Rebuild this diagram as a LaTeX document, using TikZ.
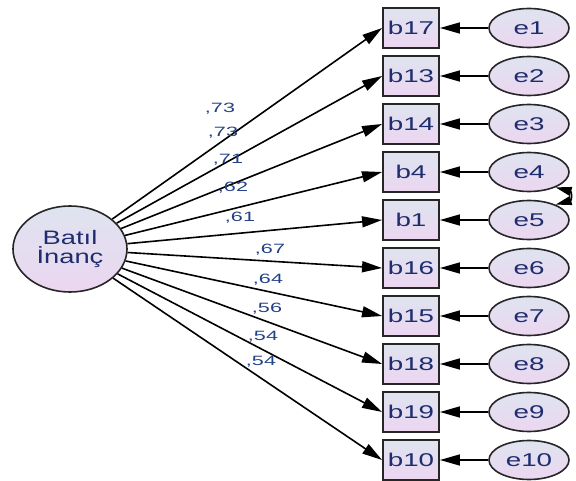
\documentclass[tikz,border=0pt]{standalone}
\usepackage{fontspec}
\setmainfont{Liberation Sans}
\usetikzlibrary{arrows.meta,shapes.geometric}
\definecolor{txt}{RGB}{30,45,110}
\definecolor{lbc}{RGB}{35,65,135}
\definecolor{ftop}{RGB}{222,228,240}
\definecolor{fbot}{RGB}{236,214,240}
\newcommand{\hs}[2]{\scalebox{#1}[1]{#2}}
\begin{document}
\begin{tikzpicture}[x=1pt,y=-1pt,
  obs/.style={draw=black!85, line width=1.9pt, rectangle, minimum width=56pt, minimum height=40pt,
    top color=ftop, bottom color=fbot, text=txt, font=\fontsize{18.5}{18.5}\selectfont, inner sep=0pt},
  err/.style={draw=black!85, line width=1.6pt, ellipse, minimum width=80pt, minimum height=39pt,
    top color=ftop, bottom color=fbot, text=txt, font=\fontsize{18.5}{18.5}\selectfont, inner sep=0pt},
  lat/.style={draw=black!85, line width=1.6pt, ellipse, minimum width=114pt, minimum height=86pt,
    top color=ftop, bottom color=fbot, text=txt, font=\fontsize{19.5}{20}\selectfont, inner sep=0pt, align=center},
  arr/.style={line width=1.6pt, -{Triangle[length=20pt,width=11pt]}},
  cov/.style={line width=1.6pt, {Triangle[length=16pt,width=9pt]}-{Triangle[length=16pt,width=9pt]}},
  lbl/.style={text=lbc, font=\fontsize{13.5}{13.5}\selectfont, inner sep=0pt}
]
\clip (0,0) rectangle (576,481);
\node[lat] (F) at (70,249) {\hs{1.4}{Batıl}\\[-1pt]\hs{1.4}{İnanç}};
\foreach \n/\e/\i in {b17/e1/0, b13/e2/1, b14/e3/2, b4/e4/3, b1/e5/4, b16/e6/5, b15/e7/6, b18/e8/7, b19/e9/8, b10/e10/9} {
  \node[obs] (\n) at (411,28+48*\i) {\hs{1.5}{\n}};
  \node[err] (\e) at (529,28+48*\i) {\hs{1.5}{\e}};
  \draw[arr] (\e) -- (\n);
  \draw[arr] (F) -- (\n.west);
}
\draw[cov] (e4.-30) to[out=-15,in=15,looseness=2.5] (e5.30);
\node[lbl] (l1) at (220,109) {\hs{1.6}{,73}};
\node[lbl] (l2) at (223,133) {\hs{1.6}{,73}};
\node[lbl] (l3) at (228,160) {\hs{1.6}{,71}};
\node[lbl] (l4) at (233,188) {\hs{1.6}{,62}};
\node[lbl] (l5) at (240,218) {\hs{1.6}{,61}};
\node[lbl] (l6) at (270,250) {\hs{1.6}{,67}};
\node[lbl] (l7) at (268,280) {\hs{1.6}{,64}};
\node[lbl] (l8) at (267,309) {\hs{1.6}{,56}};
\node[lbl] (l9) at (263,337) {\hs{1.6}{,54}};
\node[lbl] (l10) at (261,362) {\hs{1.6}{,54}};
\end{tikzpicture}
\end{document}
